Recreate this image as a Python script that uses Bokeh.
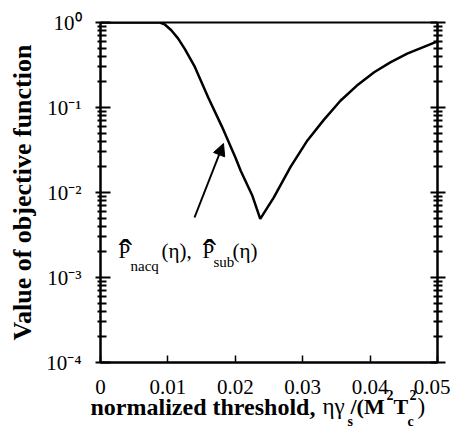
from bokeh.plotting import figure
from bokeh.models import LogAxis, FixedTicker, Label, Arrow, NormalHead, Range1d, GridBox
from bokeh.layouts import column
from bokeh.core.properties import value
from bokeh.embed import file_html
from bokeh.resources import INLINE

# ---- data ----
threshold = [0.0, 0.005, 0.0088, 0.0095, 0.0105, 0.0115, 0.0125, 0.014, 0.016, 0.018,
             0.020, 0.0208, 0.0225, 0.0237, 0.0257, 0.0282, 0.0307, 0.0331, 0.0356,
             0.038, 0.0406, 0.043, 0.0455, 0.0478, 0.05]
objective = [1.0, 1.0, 1.0, 0.955, 0.81, 0.65, 0.49, 0.30, 0.13, 0.060,
             0.026, 0.018, 0.0093, 0.0049, 0.0087, 0.020, 0.041, 0.071, 0.12,
             0.18, 0.26, 0.34, 0.43, 0.51, 0.60]
x_ticks = [0, 0.01, 0.02, 0.03, 0.04, 0.05]
x_tick_labels = ["0", "0.01", "0.02", "0.03", "0.04", "0.05"]
y_ticks = [1e-4, 1e-3, 1e-2, 1e-1, 1.0]
y_tick_labels = ["10\u207b\u2074", "10\u207b\u00b3", "10\u207b\u00b2", "10\u207b\u00b9", "10\u2070"]
y_minor = [k * 10.0 ** e for e in range(-4, 0) for k in range(2, 10)]

SERIF = "Liberation Serif"
W, H = 450, 430

p = figure(width=W, height=H, x_range=Range1d(0, 0.05), y_range=Range1d(1e-4, 1.0),
           y_axis_type="log", output_backend="svg", toolbar_location=None,
           min_border_left=100, min_border_right=13, min_border_top=22, min_border_bottom=68)
p.grid.visible = False
p.outline_line_color = "black"
p.outline_line_width = 2
p.background_fill_color = "white"
p.border_fill_color = "white"

p.line(threshold, objective, line_color="black", line_width=2.5)

# x axis
xa = p.xaxis[0]
xa.ticker = FixedTicker(ticks=x_ticks)
xa.major_label_overrides = {t: s for t, s in zip(x_ticks, x_tick_labels)}
xa.major_tick_in = 7
xa.major_tick_out = 0
xa.minor_tick_line_color = None
xa.axis_line_width = 2
xa.major_tick_line_width = 1.5
xa.major_label_text_font = SERIF
xa.major_label_text_font_size = "21px"
xa.major_label_text_color = "black"
xa.major_label_standoff = 17

# y axis (left)
ya = p.yaxis[0]
ya.ticker = FixedTicker(ticks=y_ticks, minor_ticks=y_minor)
ya.major_label_overrides = {t: s for t, s in zip(y_ticks, y_tick_labels)}
ya.major_tick_in = 10
ya.major_tick_out = 5
ya.minor_tick_in = 6
ya.minor_tick_out = 3
ya.axis_line_width = 2
ya.major_tick_line_width = 2
ya.minor_tick_line_width = 2
ya.major_label_text_font = SERIF
ya.major_label_text_font_size = "21px"
ya.major_label_text_color = "black"
ya.major_label_standoff = 14
ya.axis_label = "Value of objective function"
ya.axis_label_text_font = SERIF
ya.axis_label_text_font_style = "bold"
ya.axis_label_text_font_size = "26px"
ya.axis_label_text_color = "black"
ya.axis_label_standoff = 6

# right axis with ticks only
ra = LogAxis(ticker=FixedTicker(ticks=y_ticks, minor_ticks=y_minor))
ra.major_label_text_font_size = "2px"
ra.major_label_text_alpha = 0
ra.major_label_standoff = 0
ra.major_tick_in = 7
ra.major_tick_out = 8
ra.minor_tick_in = 4
ra.minor_tick_out = 5
ra.axis_line_width = 2
ra.major_tick_line_width = 2
ra.minor_tick_line_width = 2
p.add_layout(ra, "right")

# pixel -> data helpers for annotations (frame: x 100..437, y 22..362 px)
def dx(px):
    return 0.05 * (px - 100) / (437 - 100)

def dy(py):
    return 10 ** (-4 * (py - 22) / (362 - 22))

def lab(text, px, py, size, bold=False, align="left"):
    p.add_layout(Label(x=dx(px), y=dy(py), text=text, text_font=SERIF,
                       text_font_size=f"{size}px", text_color="black",
                       text_font_style="bold" if bold else "normal",
                       text_baseline="alphabetic", text_align=align))

# curve annotation
p.add_layout(Arrow(end=NormalHead(size=12, fill_color="black", line_color="black"),
                   x_start=dx(194), y_start=dy(217), x_end=dx(223), y_end=dy(143),
                   line_color="black", line_width=2))
lab("P", 118, 250, 21)
lab("\u02c6", 125, 253, 40, align="center")
lab("nacq", 130, 265, 15)
lab("(\u03b7),", 161, 250, 21)
lab("P", 202, 250, 21)
lab("\u02c6", 209, 253, 40, align="center")
lab("sub", 213, 261, 15)
lab("(\u03b7)", 232, 250, 21)

# overlay figure (pixel coordinates) for the x-axis title, which lies outside the frame
q = figure(width=W, height=H, x_range=Range1d(0, W), y_range=Range1d(H, 0),
           output_backend="svg", toolbar_location=None,
           x_axis_location=None, y_axis_location=None,
           min_border_left=0, min_border_right=0, min_border_top=0, min_border_bottom=0)
q.grid.visible = False
q.outline_line_color = None
q.background_fill_alpha = 0
q.border_fill_alpha = 0

def qlab(text, px, py, size, bold=False):
    q.text(x=[px], y=[py], text=[text], text_font=value(SERIF),
           text_font_size=f"{size}px", text_color="black",
           text_font_style="bold" if bold else "normal",
           text_baseline="alphabetic", text_align="left")

qlab("normalized threshold,", 90, 406, 24, True)
qlab("\u03b7\u03b3", 322, 406, 23)
qlab("s", 347, 421, 14, True)
qlab("/(M", 350, 406, 22, True)
qlab("2", 386, 394, 14, True)
qlab("T", 393, 406, 22, True)
qlab("c", 407, 421, 14, True)
qlab("2", 409, 394, 14, True)
qlab(")", 417, 406, 23)

layout = GridBox(children=[(p, 0, 0), (column(q), 0, 0)])
open("out.html", "w").write(file_html(layout, INLINE))
